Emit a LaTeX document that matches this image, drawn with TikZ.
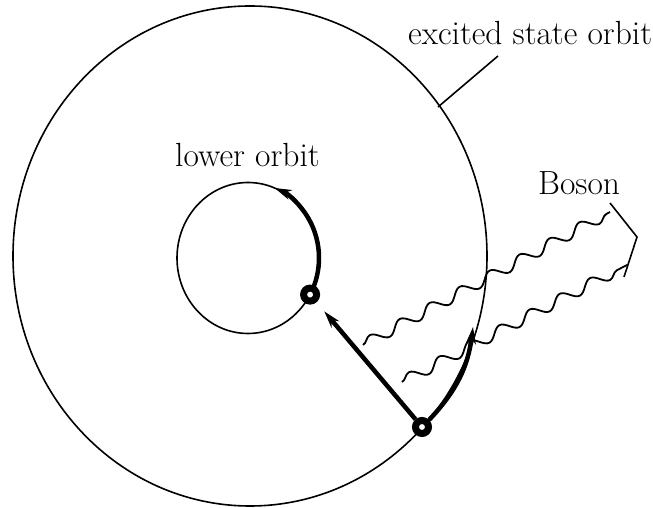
\documentclass[tikz,border=0pt]{standalone}
\usetikzlibrary{arrows.meta,decorations.pathmorphing}

\begin{document}
\begin{tikzpicture}[x=1pt,y=1pt,
  orbit/.style={line width=1.6pt},
  move/.style={line width=4.5pt,-{Stealth[length=17pt,width=10pt]}},
  electron/.style={circle,draw,line width=7pt,fill=white,minimum size=13pt,inner sep=0pt},
  photon/.style={line width=1.8pt,decorate,decoration={snake,segment length=34pt,amplitude=5.5pt}},
  lbl/.style={font=\fontsize{33.5}{40}\selectfont,anchor=base west,inner sep=0pt}]
\useasboundingbox (0,0) rectangle (653,508);
% the two orbits
\coordinate (big) at (250,252);
\coordinate (low) at (248,250);
\draw[orbit] (big) ellipse [x radius=237, y radius=250];
\draw[orbit] (low) ellipse [x radius=71, y radius=75.5];
% electrons and their moves
\path (low) ++(-29:71 and 75.5) coordinate (p1);
\coordinate (p2) at (422,81);
\coordinate (kick) at (473,181);
\draw[move] (p1) arc[start angle=-29, end angle=68, x radius=71, y radius=75.5];
\node[electron] (e1) at (p1) {};
\node[electron] (e2) at (p2) {};
\draw[move, shorten >=12pt] (e2) -- (e1);
\draw[move] (e2) to[bend right=18] (kick);
% emitted bosons
\coordinate (w1a) at (363,163);
\coordinate (w1b) at (610,296);
\coordinate (w2a) at (402,126);
\coordinate (w2b) at (627,243);
\draw[photon] (w1a) -- (w1b);
\draw[photon] (w2a) -- (w2b);
\coordinate (br1) at (610,305);
\coordinate (br2) at (637,271);
\coordinate (br3) at (624,231);
\draw[orbit] (br1) -- (br2) -- (br3);
% labels
\coordinate (tag) at (498,452);
\coordinate (rim) at (438,401);
\draw[orbit] (tag) -- (rim);
\node[lbl] (excited) at (408,463) {excited state orbit};
\node[lbl] (lower) at (175,341) {lower orbit};
\node[lbl] (boson) at (538,313) {Boson};
\end{tikzpicture}
\end{document}
